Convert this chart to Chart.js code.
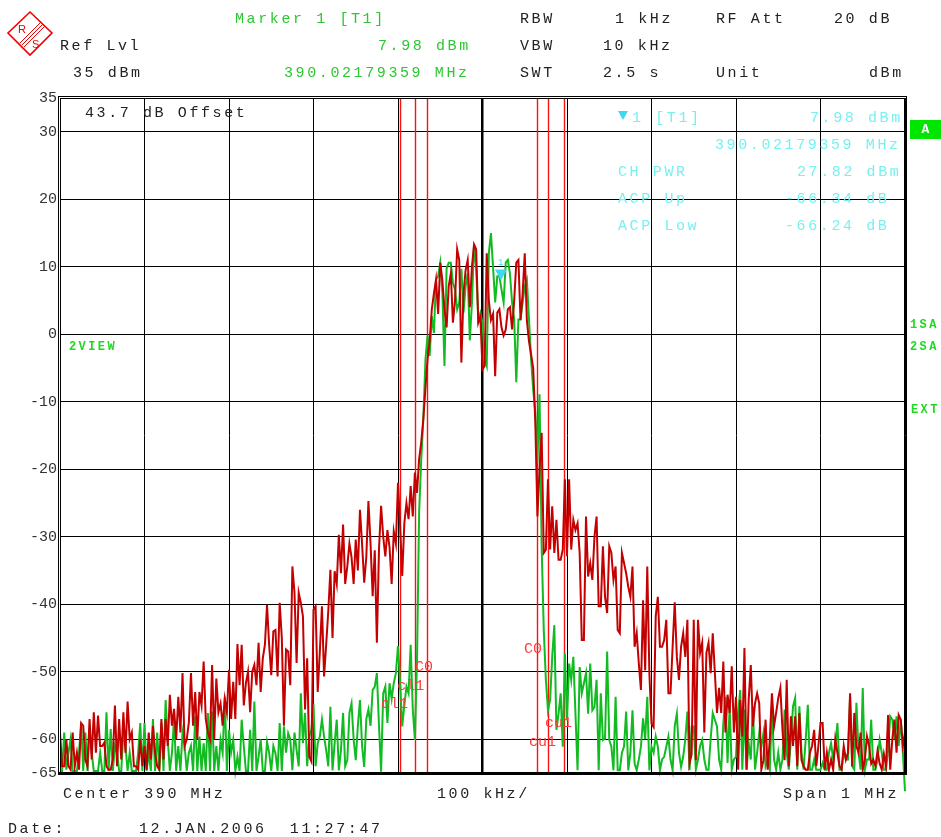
<!DOCTYPE html>
<html lang="en">
<head>
<meta charset="UTF-8">
<title>Spectrum ACP</title>
<script src="https://cdn.jsdelivr.net/npm/chart.js"></script>
<style>
    body {
        margin: 0;
        background: #fff;
        width: 941px;
        height: 837px;
        overflow: hidden;
        position: relative;
        font-family: "Liberation Mono", monospace;
    }
    #plot { position: absolute; left: 0; top: 0; }
    .t {
        position: absolute;
        font-size: 15px;
        line-height: 16px;
        letter-spacing: 2.6px;
        white-space: pre;
        color: #222;
    }
    .g { color: #2cc832; }
    .c { color: #78f0f0; }
    .side {
        position: absolute;
        font-size: 12px;
        line-height: 14px;
        font-weight: bold;
        letter-spacing: 2.4px;
        color: #22d822;
    }
    #abox {
        position: absolute;
        left: 910px; top: 120px; width: 31px; height: 19px;
        background: #00e600;
        color: #fff;
        font: bold 13px "Liberation Mono", monospace;
        line-height: 19px;
        text-align: center;
    }
    #mk {
        position: absolute;
        left: 618px; top: 111px;
        width: 0; height: 0;
        border-left: 5px solid transparent;
        border-right: 5px solid transparent;
        border-top: 9px solid #40d8f0;
    }
</style>
</head>
<body>
<canvas id="plot" width="941" height="837"></canvas>

<svg style="position:absolute;left:6px;top:10px" width="50" height="50" viewBox="0 0 50 50">
    <polygon points="24,2 46,23 24,45 2,23" fill="none" stroke="#e00" stroke-width="1.6"/>
    <line x1="14" y1="33" x2="35" y2="12" stroke="#e00" stroke-width="1"/>
    <line x1="16" y1="35" x2="37" y2="14" stroke="#e00" stroke-width="1"/>
    <line x1="18" y1="37" x2="39" y2="16" stroke="#e00" stroke-width="1"/>
    <text x="12" y="23" font-family="Liberation Sans" font-size="11" fill="#e00">R</text>
    <text x="26" y="38" font-family="Liberation Sans" font-size="11" fill="#e00">S</text>
</svg>

<div class="t g" style="left:235px;top:12px">Marker 1 [T1]</div>
<div class="t" style="left:520px;top:12px">RBW</div>
<div class="t" style="left:615px;top:12px">1 kHz</div>
<div class="t" style="left:716px;top:12px">RF Att</div>
<div class="t" style="left:834px;top:12px">20 dB</div>

<div class="t" style="left:60px;top:39px">Ref Lvl</div>
<div class="t g" style="left:378px;top:39px">7.98 dBm</div>
<div class="t" style="left:520px;top:39px">VBW</div>
<div class="t" style="left:603px;top:39px">10 kHz</div>

<div class="t" style="left:73px;top:66px">35 dBm</div>
<div class="t g" style="left:284px;top:66px">390.02179359 MHz</div>
<div class="t" style="left:520px;top:66px">SWT</div>
<div class="t" style="left:603px;top:66px">2.5 s</div>
<div class="t" style="left:716px;top:66px">Unit</div>
<div class="t" style="left:869px;top:66px">dBm</div>

<div class="t" style="left:85px;top:106px">43.7 dB Offset</div>

<div id="mk"></div>
<div class="t c" style="left:632px;top:111px">1 [T1]</div>
<div class="t c" style="left:810px;top:111px">7.98 dBm</div>
<div class="t c" style="left:715px;top:138px">390.02179359 MHz</div>
<div class="t c" style="left:618px;top:165px">CH PWR</div>
<div class="t c" style="left:797px;top:165px">27.82 dBm</div>
<div class="t c" style="left:618px;top:192px">ACP Up</div>
<div class="t c" style="left:785px;top:192px">-66.34 dB</div>
<div class="t c" style="left:618px;top:219px">ACP Low</div>
<div class="t c" style="left:785px;top:219px">-66.24 dB</div>

<div id="abox">A</div>
<div class="side" style="left:69px;top:340px">2VIEW</div>
<div class="side" style="left:910px;top:318px">1SA</div>
<div class="side" style="left:910px;top:340px">2SA</div>
<div class="side" style="left:911px;top:403px">EXT</div>

<div class="t" style="left:63px;top:787px">Center 390 MHz</div>
<div class="t" style="left:437px;top:787px">100 kHz/</div>
<div class="t" style="left:783px;top:787px">Span 1 MHz</div>
<div class="t" style="left:8px;top:822px">Date:</div>
<div class="t" style="left:139px;top:822px">12.JAN.2006  11:27:47</div>

<script>
    // sweep: 401 points, 2.5 kHz apart, offset from 390 MHz centre
    const sweepStartKHz = -500;
    const sweepStepKHz = 2.5;

    // trace 1 (red), dBm
    const trace1 = [
        -59, -64, -64, -60, -64, -64.5, -59, -64, -62, -64.5, -57.6, -58, -63, -64, -57, -63, -56, -62, -56.5, -61,
        -61, -60.5, -64, -64.5, -64.5, -63, -55, -64, -57, -63, -56, -62, -54.4, -60, -59, -64, -64, -64.5, -60, -64,
        -61, -64.5, -59, -63, -58, -62, -64, -64.5, -57, -63, -57, -61, -53.4, -58, -55.5, -60, -53.7, -59, -50.2, -61,
        -60, -57.5, -50.2, -58, -53, -60, -53, -55, -48.5, -57, -59, -60, -49, -60, -51, -56, -54.7, -58, -54, -56,
        -49.7, -57, -51.5, -57, -45.9, -52, -46, -55, -51.7, -50, -56, -50, -49, -52, -45.7, -53, -48, -46, -40.1, -46,
        -50.5, -44, -43.8, -50.7, -39.8, -45, -58, -46.7, -47, -52, -34.4, -38.3, -48.7, -38.3, -39.8, -41.8, -55.6, -48, -62.6, -63.3,
        -40.8, -40.3, -53, -47, -40.3, -50.7, -46, -41, -34.9, -45, -35.1, -37, -29.7, -35.4, -28.2, -37, -34.4, -31, -33, -37,
        -30.4, -35, -26, -31.1, -36.8, -33, -24.7, -31, -38.8, -32, -45.7, -31.9, -25.4, -30, -32.9, -29, -31.6, -37, -29.2, -31,
        -22, -28.4, -35.8, -28, -25, -27.4, -22.5, -27, -20.5, -23.5, -18.5, -16, -12.5, -8, -3.7, -1, 3.7, 6, 8.1, 3,
        10.6, 8, 3.7, 1, 7.1, 9, 1.7, 5, 12.6, 11, -4.2, 6, 9.5, 11, 4, 10, 13.3, 12.6, 1.7, 2.6,
        -5.2, -4.7, 12, 5, 2.1, 3, -6.2, 3.2, 3.7, 1, -0.2, 0.7, 3.7, 4, 0.7, 5, 10.6, 11, 2.1, 6,
        12, 2.1, -1, -3, -5, -13, -27, -20, -14.6, -32.4, -31.9, -21.5, -31.9, -25.5, -32.4, -27.5, -33.4, -33.4, -31.9, -21.5,
        -32.9, -21.5, -31.9, -27.5, -29, -28, -32.4, -45.3, -45.3, -27, -35.9, -33.9, -36.4, -30, -27, -40.3, -40.3, -31.4, -38.9, -41.3,
        -31.4, -32.4, -36.4, -34.4, -43.8, -44.3, -32.4, -33.9, -35.4, -37.4, -38.9, -34.4, -46.3, -44.3, -48.8, -52.7, -39.4, -49.8, -34.4, -50.3,
        -57.7, -58.2, -41.8, -38.9, -46.3, -46.3, -45.3, -42.3, -53.2, -53.2, -46.3, -39.7, -47.8, -51.2, -46.3, -44.3, -47.8, -42.3, -63.6, -62.2,
        -42.3, -63.1, -42.3, -47.2, -45.7, -59, -47.2, -45.7, -50.2, -44.3, -50.2, -56.1, -52.4, -56.1, -48.5, -59, -53.4, -56.1, -49.2, -59,
        -53.7, -64.5, -54.2, -59.6, -46.5, -64.5, -54.2, -49, -58.1, -54.7, -53.2, -54.7, -64.5, -63.1, -57.1, -64.5, -60, -53.2, -58.1, -56.1,
        -53.9, -52.4, -58.6, -63.1, -51.2, -64, -56.6, -61, -56.6, -64, -56.1, -63.1, -64, -64.5, -64.5, -62, -61, -58.6, -64, -61,
        -57.6, -57.6, -64.5, -62, -64.5, -63, -64.5, -60, -62, -64, -64.5, -61, -63, -62, -53.2, -64, -56.1, -61, -62, -59,
        -64.5, -63, -59.6, -61, -63.6, -63, -64, -61.7, -63.6, -64.5, -62.2, -64, -56.4, -64.5, -60, -57.1, -62, -56.4, -57.1, -61,
        -59
    ];

    // trace 2 (green), dBm
    const trace2 = [
        -64.7, -64.7, -59, -64.5, -62, -60, -64.7, -64.7, -64.7, -62, -57.6, -64.7, -59, -64.7, -58.3, -62, -64.7, -64.7, -64.7, -62,
        -64.7, -64.7, -56, -64.7, -58.5, -64.7, -61, -62, -64.7, -64.7, -59, -61, -64.7, -62, -64.7, -64.7, -64.7, -62, -57.6, -64.7,
        -57.6, -64.7, -62, -64.7, -57, -64.7, -59, -64.7, -57.6, -64.7, -54.2, -60, -64.7, -62, -56.9, -64.7, -61, -64.7, -59, -61,
        -64.7, -62, -61, -64.7, -56.6, -64.7, -59.6, -64.7, -60.6, -64.7, -56.1, -64.7, -55.9, -64.7, -61, -64.7, -60.1, -62, -53.7, -64.7,
        -58.6, -62, -60.1, -64.7, -62.6, -64.7, -57.1, -61, -64.7, -64.7, -58.6, -64.7, -54.4, -64.7, -62.6, -60, -64.7, -64.7, -60.4, -62,
        -64.7, -61, -62.1, -64.7, -57.6, -64.7, -58.1, -62, -59.1, -60, -64.6, -59, -61.6, -64, -53.2, -60.6, -56.1, -64, -59.6, -58.6,
        -54.7, -64, -60.6, -59.6, -57.1, -59.6, -61.6, -64, -55.2, -64.6, -60.6, -57.1, -64.6, -61.6, -56.1, -64, -63.1, -56.1, -54.7, -60,
        -63.1, -58, -54.2, -61, -64.1, -57, -55.6, -58, -52.7, -52.2, -50.2, -58, -64.8, -53.2, -52.2, -57.6, -51.7, -54, -51.7, -50.2,
        -46.2, -51.7, -58.1, -55, -52.2, -53.2, -46, -55.6, -60.1, -48.2, -26.4, -18.5, -12.5, -3.7, -0.2, -3.2, 2.7, 0.2, 8.1, 8.6,
        10.6, 6.2, -4.7, 9.7, 10.6, 10.6, 7.6, 6.6, 3.7, 4.7, 9.7, 3.2, 7.1, 9, -0.9, 4.7, 13.3, 9.7, 2.2, 3.2,
        1.7, -3.7, -4.7, 12, 15, 9.9, 4.7, 8.6, 8.6, 6.6, 4.7, 10.6, 11, 9, 4.7, 2.2, -7.1, 2.2, 2.2, 4.7,
        7.1, 8.1, 2.2, -3.7, -8.2, -11.6, -19, -8.9, -31.4, -43.8, -51.2, -55.7, -54.2, -47.8, -43.1, -58.6, -56.2, -53.2, -61.1, -47.3,
        -57.2, -48.8, -51.2, -47.8, -56.2, -64.6, -49.3, -53.2, -51.7, -50.2, -56.2, -48.8, -55.7, -55.2, -51.2, -64.6, -53.2, -60.1, -59.9, -47,
        -60.1, -61.1, -64.6, -53.7, -64.6, -64.6, -62, -61.1, -55.9, -64.6, -62, -55.7, -63.6, -64.6, -63, -61.1, -56.9, -60, -53.7, -64.6,
        -61.1, -62, -59.6, -61.1, -64.6, -63, -62.6, -61.1, -59.6, -63, -64.6, -58.1, -56.2, -62, -64.1, -62.6, -60, -55.9, -64.6, -58.1,
        -58.1, -64.5, -63, -61, -60.1, -63, -64.5, -64.5, -60, -56.1, -57.1, -58.1, -63, -64.5, -57.6, -53.7, -63.5, -55.1, -64.5, -63,
        -62.6, -56.1, -52.7, -64.5, -55.6, -64.5, -60.6, -63, -55.1, -64.5, -62, -59.1, -61.1, -59.1, -64, -63, -64.5, -55.1, -63, -64.5,
        -62, -64.5, -63, -55.6, -62, -64.5, -60, -55.1, -53.9, -64.5, -55.1, -62, -64.5, -60, -54.9, -64.5, -64.5, -63, -64.5, -64.5,
        -64.5, -63.5, -64.5, -64.5, -62, -60.6, -63, -61, -57.6, -64.5, -64.5, -61.6, -63, -63, -53.7, -64, -64.5, -54.6, -62, -64.5,
        -52.4, -64.5, -63, -63, -57.1, -64.5, -64.5, -63, -60.1, -62, -64.5, -64.5, -61.6, -56.6, -57.1, -60, -56.6, -61, -57.1, -62,
        -67.7
    ];

    // channel / adjacent channel limits, kHz from centre
    const channelLines = [-98, -80, -66, 64, 78, 96];
    const channelLabels = ['C0', 'cl1', 'cl1', 'C0', 'cu1', 'cu1'];
    const labelKHz = [-80, -101, -120, 49, 74, 55];
    const labelDb = [-49.3, -52.1, -54.8, -46.7, -57.6, -60.4];

    // marker 1
    const markerKHz = 21.8;
    const markerDb = 7.98;

    const yTicks = [35, 30, 20, 10, 0, -10, -20, -30, -40, -50, -60, -65];
    const xTicks = [-500, -400, -300, -200, -100, 0, 100, 200, 300, 400, 500];

    const toPoints = arr => arr.map((v, i) => ({ x: sweepStartKHz + i * sweepStepKHz, y: v }));

    const overlay = {
        id: 'overlay',
        beforeDatasetsDraw(chart) {
            const { ctx, chartArea: a, scales: { x } } = chart;
            ctx.save();
            ctx.strokeStyle = '#ff1010';
            ctx.lineWidth = 1.4;
            channelLines.forEach(f => {
                const px = Math.round(x.getPixelForValue(f)) + 0.5;
                ctx.beginPath();
                ctx.moveTo(px, a.top);
                ctx.lineTo(px, a.bottom);
                ctx.stroke();
            });
            ctx.restore();
        },
        afterDatasetsDraw(chart) {
            const { ctx, chartArea: a, scales: { x, y } } = chart;
            ctx.save();
            // channel labels
            ctx.fillStyle = '#ff3a3a';
            ctx.font = '15px "Liberation Mono"';
            ctx.textBaseline = 'middle';
            channelLabels.forEach((s, i) => {
                ctx.fillText(s, x.getPixelForValue(labelKHz[i]), y.getPixelForValue(labelDb[i]));
            });
            // marker triangle, tip on the trace
            const mx = x.getPixelForValue(markerKHz);
            const my = y.getPixelForValue(markerDb);
            ctx.fillStyle = '#40d8f0';
            ctx.beginPath();
            ctx.moveTo(mx - 6, my - 11);
            ctx.lineTo(mx + 6, my - 11);
            ctx.lineTo(mx, my);
            ctx.closePath();
            ctx.fill();
            ctx.font = '9px "Liberation Mono"';
            ctx.fillText('1', mx - 3, my - 18);
            // frame
            ctx.strokeStyle = '#000';
            ctx.lineWidth = 1;
            ctx.strokeRect(a.left - 1.5, a.top - 1.5, a.width + 3, a.height + 3);
            ctx.strokeRect(a.left + 0.5, a.top + 0.5, a.width - 1, a.height - 1);
            ctx.fillStyle = '#000';
            ctx.fillRect(a.left - 2, a.bottom - 1, a.width + 4, 3);
            ctx.restore();
        }
    };

    new Chart(document.getElementById('plot'), {
        type: 'line',
        data: {
            datasets: [
                {
                    label: 'Trace 1',
                    data: toPoints(trace1),
                    borderColor: '#c40000',
                    borderWidth: 2,
                    pointRadius: 0,
                    tension: 0
                },
                {
                    label: 'Trace 2',
                    data: toPoints(trace2),
                    borderColor: '#12bb22',
                    borderWidth: 2,
                    pointRadius: 0,
                    tension: 0,
                    clip: false
                }
            ]
        },
        options: {
            responsive: false,
            animation: false,
            events: [],
            layout: { padding: { left: 0, right: 36, top: 98, bottom: 64 } },
            plugins: { legend: { display: false }, tooltip: { enabled: false } },
            scales: {
                x: {
                    type: 'linear',
                    min: -500,
                    max: 500,
                    afterBuildTicks: s => { s.ticks = xTicks.map(v => ({ value: v })); },
                    afterFit: s => { s.height = 0; },
                    ticks: { display: false },
                    border: { display: false },
                    grid: {
                        color: '#000',
                        drawTicks: false,
                        lineWidth: c => (c.tick && c.tick.value === 0 ? 2.5 : 1)
                    }
                },
                y: {
                    min: -65,
                    max: 35,
                    afterBuildTicks: s => { s.ticks = yTicks.map(v => ({ value: v })); },
                    afterFit: s => { s.width = 60; },
                    border: { display: false },
                    grid: { color: '#000', drawTicks: false, lineWidth: 1 },
                    ticks: {
                        color: '#333',
                        padding: 3,
                        autoSkip: false,
                        font: { family: 'Liberation Mono', size: 15 }
                    }
                }
            }
        },
        plugins: [overlay]
    });
</script>
</body>
</html>
